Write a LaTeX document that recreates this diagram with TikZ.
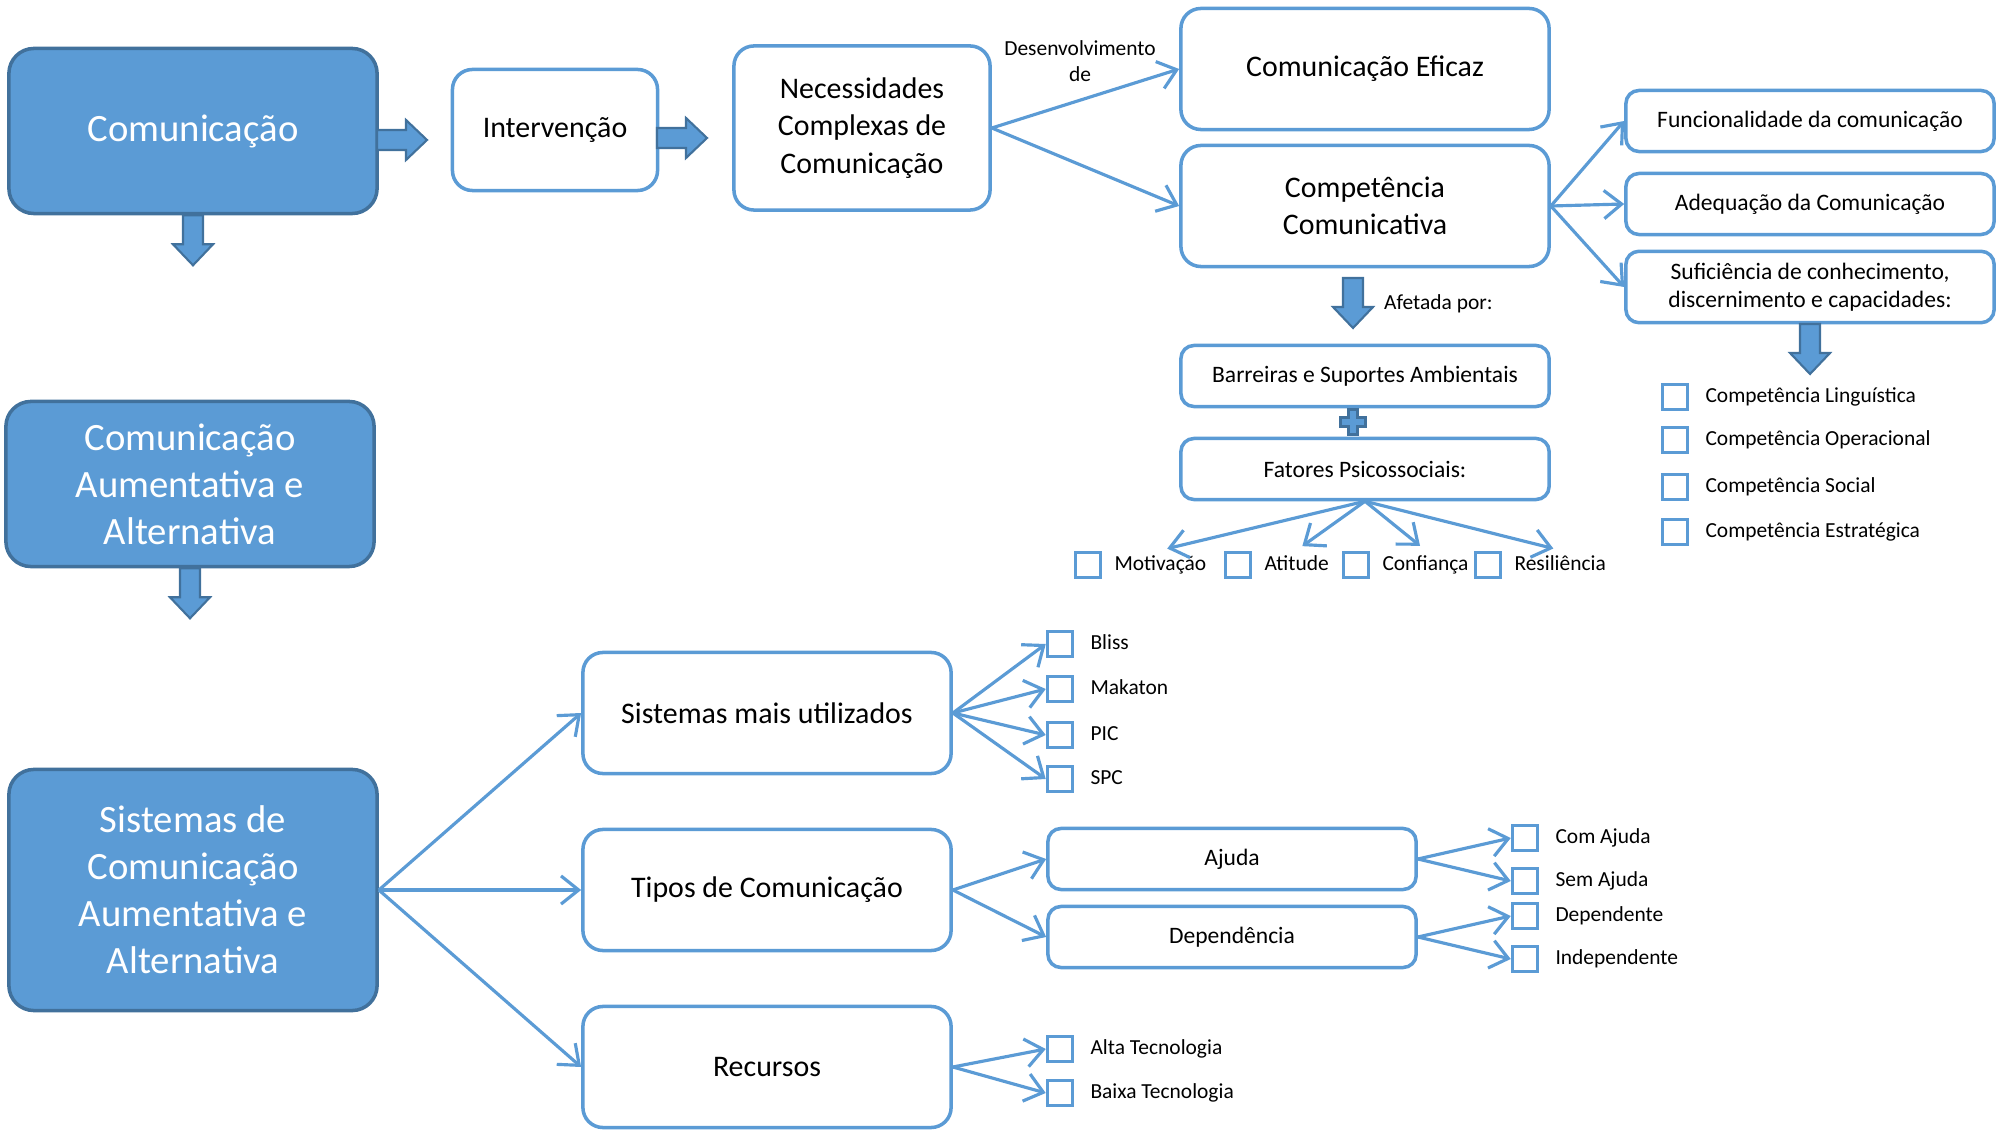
\documentclass[tikz,border=0pt]{standalone}
\usepackage{fontspec}
\setmainfont{Carlito}
\usetikzlibrary{arrows.meta}

\definecolor{mapblue}{HTML}{5B9BD5}
\definecolor{mapedge}{HTML}{41719C}

\tikzset{
  bigbox/.style={draw=mapedge, fill=mapblue, line width=1pt, rounded corners=0.25cm,
    text=white, align=center, minimum width=3.68cm, font=\fontsize{11}{13.4}\selectfont},
  whitebox/.style={draw=mapblue, fill=white, line width=1pt, rounded corners=0.2cm,
    align=center, minimum width=3.68cm, minimum height=1.21cm, font=\fontsize{8.5}{10.6}\selectfont},
  smallbox/.style={draw=mapblue, line width=1pt, rounded corners=0.13cm, align=center,
    minimum width=3.68cm, minimum height=0.61cm, font=\fontsize{6.7}{7.9}\selectfont},
  chkbox/.style={draw=mapblue, line width=1pt, minimum size=0.25cm, inner sep=0pt},
  itemtext/.style={font=\fontsize{6.1}{7.4}\selectfont, anchor=west, inner sep=1pt,
    text height=4.6pt, text depth=1.4pt},
  link/.style={draw=mapblue, line width=0.9pt, -{Straight Barb[length=5pt,width=8pt]}},
  bigarrow/.style={draw=mapedge, fill=mapblue, line width=0.6pt},
}

% block arrows, argument is the middle of the tail
\newcommand{\bigarrowright}[1]{\filldraw[bigarrow] (#1) ++(0,-10) -- ++(29,0) -- ++(0,-10) -- ++(21,20) -- ++(-21,20) -- ++(0,-10) -- ++(-29,0) -- cycle;}
\newcommand{\bigarrowdown}[1]{\filldraw[bigarrow] (#1) ++(-10,0) -- ++(0,29) -- ++(-10,0) -- ++(20,21) -- ++(20,-21) -- ++(-10,0) -- ++(0,-29) -- cycle;}

\begin{document}
\begin{tikzpicture}[x=0.01cm, y=-0.01cm]
  \useasboundingbox (0,0) rectangle (1997,1131);

  % left column
  \node[bigbox, minimum height=1.65cm] (com) at (193,131) {Comunicação};
  \node[bigbox, minimum height=1.65cm] (caa) at (190,484) {Comunicação\\Aumentativa e\\Alternativa};
  \node[bigbox, minimum height=2.41cm] (scaa) at (193,890) {Sistemas de\\Comunicação\\Aumentativa e\\Alternativa};

  \bigarrowright{377,140}
  \bigarrowdown{com.south}
  \bigarrowdown{caa.south}

  % top row
  \node[whitebox, minimum width=2.05cm] (int) at (555,130) {Intervenção};
  \bigarrowright{657,138}
  \node[whitebox, minimum width=2.56cm, minimum height=1.64cm] (nec) at (862,128) {Necessidades\\Complexas de\\Comunicação};
  \node[whitebox] (efi) at (1365,69) {Comunicação Eficaz};
  \node[whitebox] (cc) at (1365,206) {Competência\\Comunicativa};
  \node[font=\fontsize{6.1}{7.4}\selectfont, align=center] (desen) at (1080,61) {Desenvolvimento\\de};

  \draw[link] (nec.east) -- (efi.west);
  \draw[link] (nec.east) -- (cc.west);

  \node[smallbox] (fun) at (1810,121) {Funcionalidade da comunicação};
  \node[smallbox] (ade) at (1810,204) {Adequação da Comunicação};
  \node[smallbox] (suf) at (1810,287) {Suficiência de conhecimento,\\discernimento e capacidades:};
  \foreach \n in {fun,ade,suf}
    \draw[link] (cc.east) -- (\n.west);

  \bigarrowdown{1810,324}
  \foreach \n/\y/\txt in {ling/397/Competência Linguística, oper/440/Competência Operacional,
      soc/487/Competência Social, estr/532/Competência Estratégica} {
    \node[chkbox] (\n) at (1675,\y) {};
    \node[itemtext] (\n-t) at ([xshift=0.12cm]\n.east) {\txt};
  }

  % afetada por
  \bigarrowdown{1353,278}
  \node[itemtext] (afet) at (1380,304) {Afetada por:};
  \node[smallbox] (bar) at (1365,376) {Barreiras e Suportes Ambientais};
  \filldraw[bigarrow] (1353,422) ++(-4.5,-12.5) -- ++(9,0) -- ++(0,8) -- ++(8,0) -- ++(0,9)
    -- ++(-8,0) -- ++(0,8) -- ++(-9,0) -- ++(0,-8) -- ++(-8,0) -- ++(0,-9) -- ++(8,0) -- cycle;
  \node[smallbox] (fat) at (1365,469) {Fatores Psicossociais:};

  \foreach \n/\x/\txt in {mot/1088/Motivação, ati/1238/Atitude, conf/1356/Confiança, res/1488/Resiliência} {
    \node[chkbox] (\n) at (\x,565) {};
    \node[itemtext] (\n-t) at ([xshift=0.08cm]\n.east) {\txt};
    \draw[link, shorten >=2pt] (fat.south) -- (\n-t.north);
  }

  % lower part
  \node[whitebox] (sis) at (767,713) {Sistemas mais utilizados};
  \node[whitebox] (tip) at (767,890) {Tipos de Comunicação};
  \node[whitebox] (rec) at (767,1067) {Recursos};
  \foreach \n in {sis,tip,rec}
    \draw[link] (scaa.east) -- (\n.west);

  \foreach \n/\y/\txt in {bliss/644/Bliss, mak/689/Makaton, pic/735/PIC, spc/779/SPC} {
    \node[chkbox] (\n) at (1060,\y) {};
    \node[itemtext] (\n-t) at ([xshift=0.12cm]\n.east) {\txt};
    \draw[link] (sis.east) -- (\n.west);
  }

  \node[smallbox] (aju) at (1232,859) {Ajuda};
  \node[smallbox] (dep) at (1232,937) {Dependência};
  \draw[link] (tip.east) -- (aju.west);
  \draw[link] (tip.east) -- (dep.west);

  \foreach \n/\y/\txt/\src in {comaj/838/Com Ajuda/aju, semaj/881/Sem Ajuda/aju,
      depe/916/Dependente/dep, indep/959/Independente/dep} {
    \node[chkbox] (\n) at (1525,\y) {};
    \node[itemtext] (\n-t) at ([xshift=0.12cm]\n.east) {\txt};
    \draw[link] (\src.east) -- (\n.west);
  }

  \foreach \n/\y/\txt in {alta/1049/Alta Tecnologia, baixa/1093/Baixa Tecnologia} {
    \node[chkbox] (\n) at (1060,\y) {};
    \node[itemtext] (\n-t) at ([xshift=0.12cm]\n.east) {\txt};
    \draw[link] (rec.east) -- (\n.west);
  }
\end{tikzpicture}
\end{document}
